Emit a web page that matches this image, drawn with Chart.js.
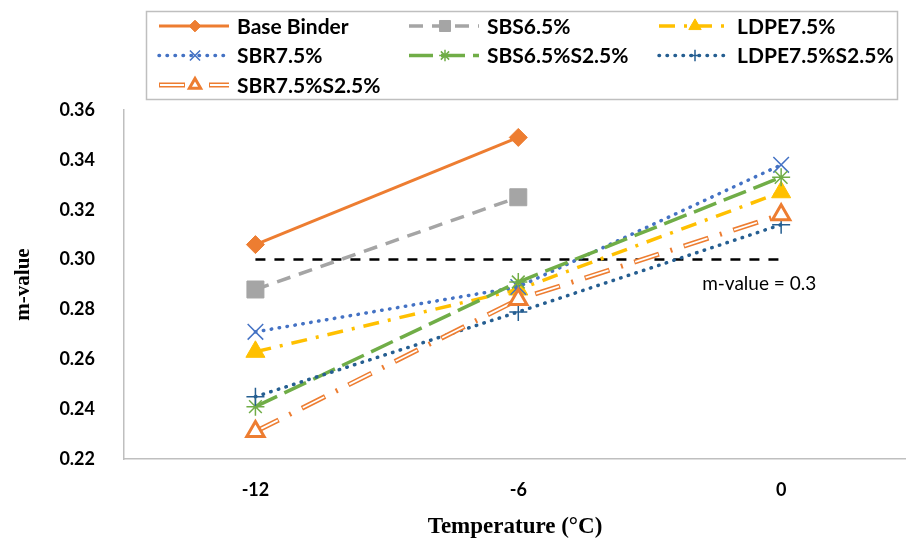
<!DOCTYPE html>
<html>
<head>
<meta charset="utf-8">
<script src="https://cdn.jsdelivr.net/npm/chart.js@4.4.1/dist/chart.umd.min.js"></script>
<style>
  html, body { margin: 0; padding: 0; background: #fff; overflow: hidden; }
  #c { display: block; }
</style>
</head>
<body>
<canvas id="c" width="906" height="539"></canvas>
<script>
// ---------- data ----------
const temperatures = [-12, -6, 0];
const xTickValues = [-12, -6, 0];
const yTickMin = 0.22;
const yTickMax = 0.36;
const yTickStep = 0.02;

const seriesNames = ['Base Binder', 'SBS6.5%', 'LDPE7.5%', 'SBR7.5%', 'SBS6.5%S2.5%', 'LDPE7.5%S2.5%', 'SBR7.5%S2.5%'];
const baseBinder = [0.306, 0.349, null];
const sbs65      = [0.288, 0.325, null];
const ldpe75     = [0.263, 0.288, 0.327];
const sbr75      = [0.271, 0.289, 0.338];
const sbs65s25   = [0.241, 0.291, 0.333];
const ldpe75s25  = [0.245, 0.279, 0.314];
const sbr75s25   = [0.231, 0.284, 0.318];
const thresholdValues = [0.3, 0.3, 0.3];
const thresholdLabel = 'm-value = 0.3';
const xTitle = 'Temperature (°C)';
const yTitle = 'm-value';

// ---------- styles ----------
const styles = [
  { color: '#ED7D31', width: 3,   dash: [],              cap: 'butt',  point: 'rectRot',  r: 9,  pbw: 1,   fill: '#ED7D31' },
  { color: '#A5A5A5', width: 3.5, dash: [14, 9],         cap: 'butt',  point: 'rect',     r: 12, pbw: 1,   fill: '#A5A5A5' },
  { color: '#FFC000', width: 3.5, dash: [16, 9, 3, 9],   cap: 'butt',  point: 'triangle', r: 11, pbw: 1,   fill: '#FFC000' },
  { color: '#4472C4', width: 3.5, dash: [0.5, 7.5],      cap: 'round', point: 'crossRot', r: 11, pbw: 1.5, fill: '#4472C4' },
  { color: '#70AD47', width: 3.5, dash: [24, 8],         cap: 'butt',  point: 'star',     r: 9,  pbw: 1.5, fill: '#70AD47' },
  { color: '#255E91', width: 3.5, dash: [0.5, 7.5],      cap: 'round', point: 'cross',    r: 9,  pbw: 1.5, fill: '#255E91' },
  { color: '#ED7D31', width: 5,   dash: [26, 12, 2, 12], cap: 'butt',  point: 'triangle', r: 10, pbw: 3,   fill: '#FFFFFF', compound: true }
];
const seriesValues = [baseBinder, sbs65, ldpe75, sbr75, sbs65s25, ldpe75s25, sbr75s25];

function toPoints(arr) {
  return temperatures.map((t, i) => ({ x: t, y: arr[i] }));
}

const datasets = [];
// threshold line at the back
datasets.push({
  label: thresholdLabel,
  data: toPoints(thresholdValues),
  borderColor: '#000000',
  borderWidth: 2.5,
  borderDash: [10, 9],
  pointRadius: 0,
  order: 50
});
seriesValues.forEach((arr, i) => {
  const s = styles[i];
  if (!s.compound) {
    datasets.push({
      label: seriesNames[i],
      data: toPoints(arr),
      borderColor: s.color,
      borderWidth: s.width,
      borderDash: s.dash,
      borderCapStyle: s.cap,
      pointStyle: s.point,
      pointRadius: s.r,
      pointHoverRadius: s.r,
      pointBorderWidth: s.pbw,
      pointBorderColor: s.color,
      pointBackgroundColor: s.fill,
      tension: 0,
      order: 40 - i
    });
  } else {
    // outer orange line of the double line
    datasets.push({
      label: seriesNames[i],
      data: toPoints(arr),
      borderColor: s.color,
      borderWidth: s.width,
      borderDash: s.dash,
      borderCapStyle: 'butt',
      pointRadius: 0,
      tension: 0,
      order: 12
    });
    // white core of the double line
    datasets.push({
      label: seriesNames[i] + ' core',
      data: toPoints(arr),
      borderColor: '#FFFFFF',
      borderWidth: 1.8,
      borderDash: [24, 28],
      borderDashOffset: -1,
      borderCapStyle: 'butt',
      pointRadius: 0,
      tension: 0,
      order: 11
    });
    // markers
    datasets.push({
      label: seriesNames[i] + ' markers',
      data: toPoints(arr),
      showLine: false,
      pointStyle: s.point,
      pointRadius: s.r,
      pointHoverRadius: s.r,
      pointBorderWidth: s.pbw,
      pointBorderColor: s.color,
      pointBackgroundColor: s.fill,
      order: 10
    });
  }
});

// ---------- plugins ----------
const boxLegend = {
  id: 'boxLegend',
  afterDraw(chart) {
    const ctx = chart.ctx;
    ctx.save();
    ctx.fillStyle = '#FFFFFF';
    ctx.fillRect(146, 11, 752, 88);
    ctx.strokeStyle = '#BFBFBF';
    ctx.lineWidth = 1.5;
    ctx.setLineDash([]);
    ctx.strokeRect(146.5, 11.5, 751, 88);
    ctx.font = 'bold 21px Lato';
    ctx.textBaseline = 'middle';
    ctx.textAlign = 'left';
    seriesNames.forEach((name, i) => {
      const s = styles[i];
      const col = i % 3, row = Math.floor(i / 3);
      const x0 = 159 + col * 250;
      const y = 26 + row * 29.5;
      const x1 = x0 + 70;
      ctx.save();
      ctx.strokeStyle = s.color;
      ctx.lineWidth = s.compound ? 5 : s.width;
      ctx.lineCap = s.cap;
      ctx.setLineDash(s.compound ? [26, 10, 2, 12] : s.dash);
      ctx.beginPath(); ctx.moveTo(x0, y); ctx.lineTo(x1, y); ctx.stroke();
      if (s.compound) {
        ctx.strokeStyle = '#FFFFFF';
        ctx.lineWidth = 1.8;
        ctx.setLineDash([24, 26]);
        ctx.lineDashOffset = -1;
        ctx.beginPath(); ctx.moveTo(x0, y); ctx.lineTo(x1, y); ctx.stroke();
      }
      ctx.restore();
      ctx.save();
      ctx.setLineDash([]);
      ctx.strokeStyle = s.color;
      ctx.fillStyle = s.fill;
      ctx.lineWidth = s.pbw;
      Chart.helpers.drawPoint(ctx, { pointStyle: s.point, radius: s.r * 0.65, borderWidth: s.pbw, rotation: 0 }, x0 + 36, y);
      ctx.restore();
      ctx.fillStyle = '#000000';
      ctx.fillText(name, x0 + 78, y + 1);
    });
    ctx.restore();
  }
};

const thresholdText = {
  id: 'thresholdText',
  afterDatasetsDraw(chart) {
    const ctx = chart.ctx;
    const xs = chart.scales.x, ys = chart.scales.y;
    ctx.save();
    ctx.font = '19px Lato';
    ctx.fillStyle = '#000000';
    ctx.textAlign = 'left';
    ctx.textBaseline = 'middle';
    ctx.fillText(thresholdLabel, xs.getPixelForValue(temperatures[2]) - 79, ys.getPixelForValue(thresholdValues[2]) + 24);
    ctx.restore();
  }
};

// ---------- chart ----------
new Chart(document.getElementById('c'), {
  type: 'line',
  data: { datasets },
  options: {
    responsive: false,
    devicePixelRatio: 1,
    animation: false,
    events: [],
    layout: { autoPadding: false, padding: { top: 110, left: 0, right: 0, bottom: 0 } },
    plugins: { legend: { display: false }, tooltip: { enabled: false } },
    scales: {
      x: {
        type: 'linear',
        min: -15,
        max: 2.85,
        grid: { display: false },
        border: { display: true, color: '#BFBFBF', width: 1.5 },
        afterBuildTicks(scale) { scale.ticks = xTickValues.map(v => ({ value: v })); },
        afterFit(scale) { scale.height = 80; scale.paddingLeft = 0; scale.paddingRight = 0; },
        ticks: {
          color: '#000000',
          padding: 12,
          maxRotation: 0,
          font: { family: 'Lato', size: 18, weight: 'bold' },
          callback: v => String(v)
        },
        title: {
          display: true,
          text: xTitle,
          color: '#000000',
          padding: { top: 0, bottom: 0 },
          font: { family: 'Liberation Serif', size: 23, weight: 'bold', lineHeight: 1.0 }
        }
      },
      y: {
        min: yTickMin,
        max: yTickMax,
        grid: { display: false },
        border: { display: true, color: '#BFBFBF', width: 1.5 },
        afterFit(scale) { scale.width = 124; scale.paddingTop = 0; scale.paddingBottom = 0; },
        ticks: {
          stepSize: yTickStep,
          color: '#000000',
          padding: 21,
          font: { family: 'Lato', size: 18, weight: 'bold' },
          callback: v => Number(v).toFixed(2)
        },
        title: {
          display: true,
          text: yTitle,
          color: '#000000',
          padding: { top: 11, bottom: 0 },
          font: { family: 'Liberation Serif', size: 21, weight: 'bold' }
        }
      }
    }
  },
  plugins: [boxLegend, thresholdText]
});
</script>
</body>
</html>
